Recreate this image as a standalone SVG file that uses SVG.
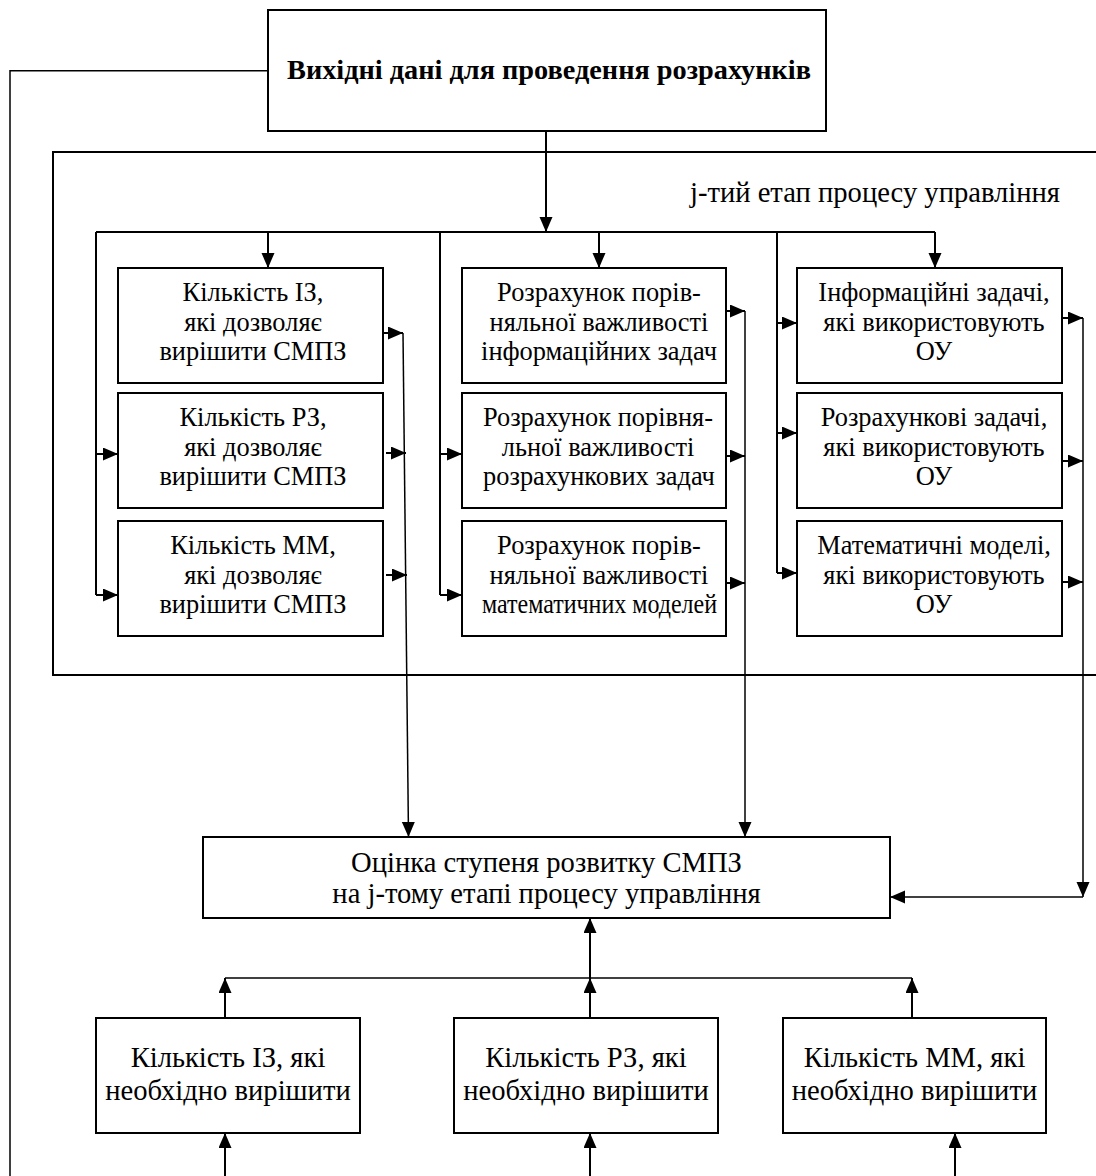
<svg xmlns="http://www.w3.org/2000/svg" width="1096" height="1176" viewBox="0 0 1096 1176">
<style>
.box{fill:#fff;stroke:#000;stroke-width:2}
.ln{fill:none;stroke:#000;stroke-width:2}
.th{fill:none;stroke:#000;stroke-width:1.5}
text{font-family:"Liberation Serif","Times New Roman",serif;fill:#000;text-anchor:middle}
.t{font-size:26.4px}
.tl{font-size:28.6px}
.tb{font-size:28.6px}
.title{font-size:28.3px;font-weight:bold}
</style>
<defs>
<marker id="ah" markerUnits="userSpaceOnUse" markerWidth="16" markerHeight="14" refX="15" refY="6.5" orient="auto">
<path d="M0,0 L15,6.5 L0,13 z" fill="#000"/>
</marker>
</defs>
<rect width="1096" height="1176" fill="#fff"/>

<g id="frame">
<path class="ln" d="M1100,152 H53 V675 H1100"/>
<text class="tl" x="875" y="202">j-тий етап процесу управління</text>
</g>

<g id="connectors">
<path class="th" d="M268,70.7 H10 V1176"/>
<path class="ln" d="M546,131 V232" marker-end="url(#ah)"/>
<path class="ln" d="M96,232 H935"/>
<path class="ln" d="M268,232 V268" marker-end="url(#ah)"/>
<path class="ln" d="M599,232 V268" marker-end="url(#ah)"/>
<path class="ln" d="M935,232 V268" marker-end="url(#ah)"/>
<path class="ln" d="M96,232 V595"/>
<path class="ln" d="M440,232 V595"/>
<path class="ln" d="M777,232 V573"/>
<path class="ln" d="M96,454 H118" marker-end="url(#ah)"/>
<path class="ln" d="M96,595 H118" marker-end="url(#ah)"/>
<path class="ln" d="M440,454 H462" marker-end="url(#ah)"/>
<path class="ln" d="M440,595 H462" marker-end="url(#ah)"/>
<path class="ln" d="M777,323 H797" marker-end="url(#ah)"/>
<path class="ln" d="M777,433 H797" marker-end="url(#ah)"/>
<path class="ln" d="M777,573 H797" marker-end="url(#ah)"/>
<path class="ln" d="M384,333 H403" marker-end="url(#ah)"/>
<path class="ln" d="M386,453 H406" marker-end="url(#ah)"/>
<path class="ln" d="M386,575 H407" marker-end="url(#ah)"/>
<path class="th" d="M403,333 L408.5,837" marker-end="url(#ah)"/>
<path class="ln" d="M727,311 H745" marker-end="url(#ah)"/>
<path class="ln" d="M727,456 H745" marker-end="url(#ah)"/>
<path class="ln" d="M727,583 H745" marker-end="url(#ah)"/>
<path class="th" d="M745,311 V837" marker-end="url(#ah)"/>
<path class="ln" d="M1063,318 H1083" marker-end="url(#ah)"/>
<path class="ln" d="M1063,461 H1083" marker-end="url(#ah)"/>
<path class="ln" d="M1063,582 H1083" marker-end="url(#ah)"/>
<path class="th" d="M1083,318 V897" marker-end="url(#ah)"/>
<path class="th" d="M1083,897 H890" marker-end="url(#ah)"/>
<path class="th" d="M225,978 H912"/>
<path class="ln" d="M225,1018 V978" marker-end="url(#ah)"/>
<path class="ln" d="M590,1018 V978" marker-end="url(#ah)"/>
<path class="ln" d="M912,1018 V978" marker-end="url(#ah)"/>
<path class="ln" d="M590,978 V918" marker-end="url(#ah)"/>
<path class="ln" d="M225,1176 V1133" marker-end="url(#ah)"/>
<path class="ln" d="M590,1176 V1133" marker-end="url(#ah)"/>
<path class="ln" d="M955,1176 V1133" marker-end="url(#ah)"/>
</g>

<g id="source">
<rect class="box" x="268" y="10" width="558" height="121"/>
<text class="title" x="549" y="79">Вихідні дані для проведення розрахунків</text>
</g>

<g id="count-iz">
<rect class="box" x="118" y="268" width="265" height="115"/>
<text class="t" x="253" y="301">Кількість ІЗ,</text>
<text class="t" x="253" y="331">які дозволяє</text>
<text class="t" x="253" y="360">вирішити СМПЗ</text>
</g>
<g id="count-rz">
<rect class="box" x="118" y="393" width="265" height="115"/>
<text class="t" x="253" y="426">Кількість РЗ,</text>
<text class="t" x="253" y="456">які дозволяє</text>
<text class="t" x="253" y="485">вирішити СМПЗ</text>
</g>
<g id="count-mm">
<rect class="box" x="118" y="521" width="265" height="115"/>
<text class="t" x="253" y="554">Кількість ММ,</text>
<text class="t" x="253" y="584">які дозволяє</text>
<text class="t" x="253" y="613">вирішити СМПЗ</text>
</g>

<g id="calc-iz">
<rect class="box" x="462" y="268" width="264" height="115"/>
<text class="t" x="599" y="301">Розрахунок порів-</text>
<text class="t" x="599" y="331">няльної важливості</text>
<text class="t" x="599" y="360">інформаційних задач</text>
</g>
<g id="calc-rz">
<rect class="box" x="462" y="393" width="264" height="115"/>
<text class="t" x="598" y="426">Розрахунок порівня-</text>
<text class="t" x="598" y="456">льної важливості</text>
<text class="t" x="599" y="485">розрахункових задач</text>
</g>
<g id="calc-mm">
<rect class="box" x="462" y="521" width="264" height="115"/>
<text class="t" x="599" y="554">Розрахунок порів-</text>
<text class="t" x="599" y="584">няльної важливості</text>
<text class="t" x="599.5" y="613" textLength="235" lengthAdjust="spacingAndGlyphs">математичних моделей</text>
</g>

<g id="ou-iz">
<rect class="box" x="797" y="268" width="265" height="115"/>
<text class="t" x="934" y="301">Інформаційні задачі,</text>
<text class="t" x="934" y="331">які використовують</text>
<text class="t" x="934" y="360">ОУ</text>
</g>
<g id="ou-rz">
<rect class="box" x="797" y="393" width="265" height="115"/>
<text class="t" x="934" y="426">Розрахункові задачі,</text>
<text class="t" x="934" y="456">які використовують</text>
<text class="t" x="934" y="485">ОУ</text>
</g>
<g id="ou-mm">
<rect class="box" x="797" y="521" width="265" height="115"/>
<text class="t" x="934" y="554">Математичні моделі,</text>
<text class="t" x="934" y="584">які використовують</text>
<text class="t" x="934" y="613">ОУ</text>
</g>

<g id="evaluation">
<rect class="box" x="203" y="837" width="687" height="81"/>
<text class="tl" x="546.5" y="872">Оцінка ступеня розвитку СМПЗ</text>
<text class="tl" x="546.5" y="903">на j-тому етапі процесу управління</text>
</g>

<g id="need-iz">
<rect class="box" x="96" y="1018" width="264" height="115"/>
<text class="tb" x="228" y="1067">Кількість ІЗ, які</text>
<text class="tb" x="228" y="1100">необхідно вирішити</text>
</g>
<g id="need-rz">
<rect class="box" x="454" y="1018" width="264" height="115"/>
<text class="tb" x="586" y="1067">Кількість РЗ, які</text>
<text class="tb" x="586" y="1100">необхідно вирішити</text>
</g>
<g id="need-mm">
<rect class="box" x="783" y="1018" width="263" height="115"/>
<text class="tb" x="914.5" y="1067">Кількість ММ, які</text>
<text class="tb" x="914.5" y="1100">необхідно вирішити</text>
</g>
</svg>
